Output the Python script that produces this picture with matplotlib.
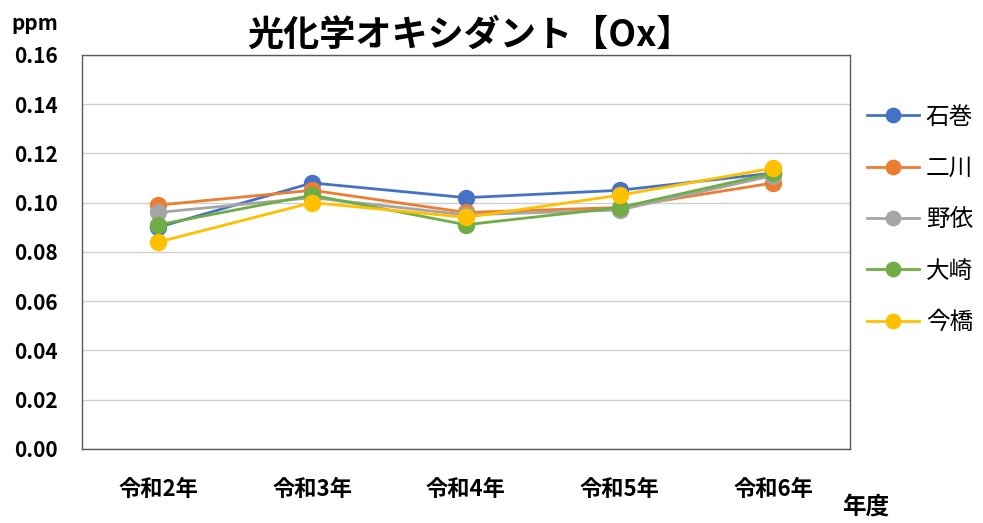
import matplotlib
matplotlib.use("Agg")
import matplotlib.pyplot as plt
import numpy as np

plt.rcParams['font.family'] = ['Noto Sans CJK JP', 'DejaVu Sans']

years = ['令和2年', '令和3年', '令和4年', '令和5年', '令和6年']
ishinomaki = [0.090, 0.108, 0.102, 0.105, 0.112]
futakawa = [0.099, 0.105, 0.096, 0.098, 0.108]
noyori = [0.096, 0.102, 0.095, 0.097, 0.111]
osaki = [0.091, 0.103, 0.091, 0.098, 0.112]
imabashi = [0.084, 0.100, 0.094, 0.103, 0.114]

series = [('石巻', ishinomaki, '#4472C4'),
          ('二川', futakawa, '#ED7D31'),
          ('野依', noyori, '#A5A5A5'),
          ('大崎', osaki, '#70AD47'),
          ('今橋', imabashi, '#FFC000')]

fig = plt.figure(figsize=(9.83, 5.23), dpi=100)
ax = fig.add_axes([0.083, 0.142, 0.782, 0.753])

x = np.arange(len(years))
for name, vals, col in series:
    ax.plot(x, vals, color=col, lw=2, marker='o', ms=11.5, label=name)

ax.set_xlim(-0.5, 4.5)
ax.set_ylim(0, 0.16)
yt = np.arange(0, 0.161, 0.02)
ax.set_yticks(yt)
ax.set_yticklabels(['%.2f' % v for v in yt], fontsize=15, fontweight='bold')
ax.set_xticks(x)
ax.set_xticklabels(years, fontsize=16, fontweight='bold')
ax.tick_params(axis='x', length=0, pad=21)
ax.tick_params(axis='y', length=0, pad=17)
ax.yaxis.grid(True, color='#D0D0D0', lw=1)
ax.set_axisbelow(True)
for sp in ax.spines.values():
    sp.set_color('#595959')
    sp.set_linewidth(1)

fig.text(0.478, 0.933, '光化学オキシダント【Ox】', ha='center', va='center',
         fontsize=26, fontweight='bold')
fig.text(0.012, 0.955, 'ppm', ha='left', va='center', fontsize=15, fontweight='bold')
fig.text(0.857, 0.029, '年度', ha='left', va='center', fontsize=17, fontweight='bold')

leg = ax.legend(loc='upper left', bbox_to_anchor=(1.0, 0.913), frameon=False,
                prop={'size': 17}, labelspacing=1.2,
                handlelength=2.2, handletextpad=0.3, markerscale=0.9,
                borderaxespad=0.3)

fig.savefig('out.png', dpi=100)
